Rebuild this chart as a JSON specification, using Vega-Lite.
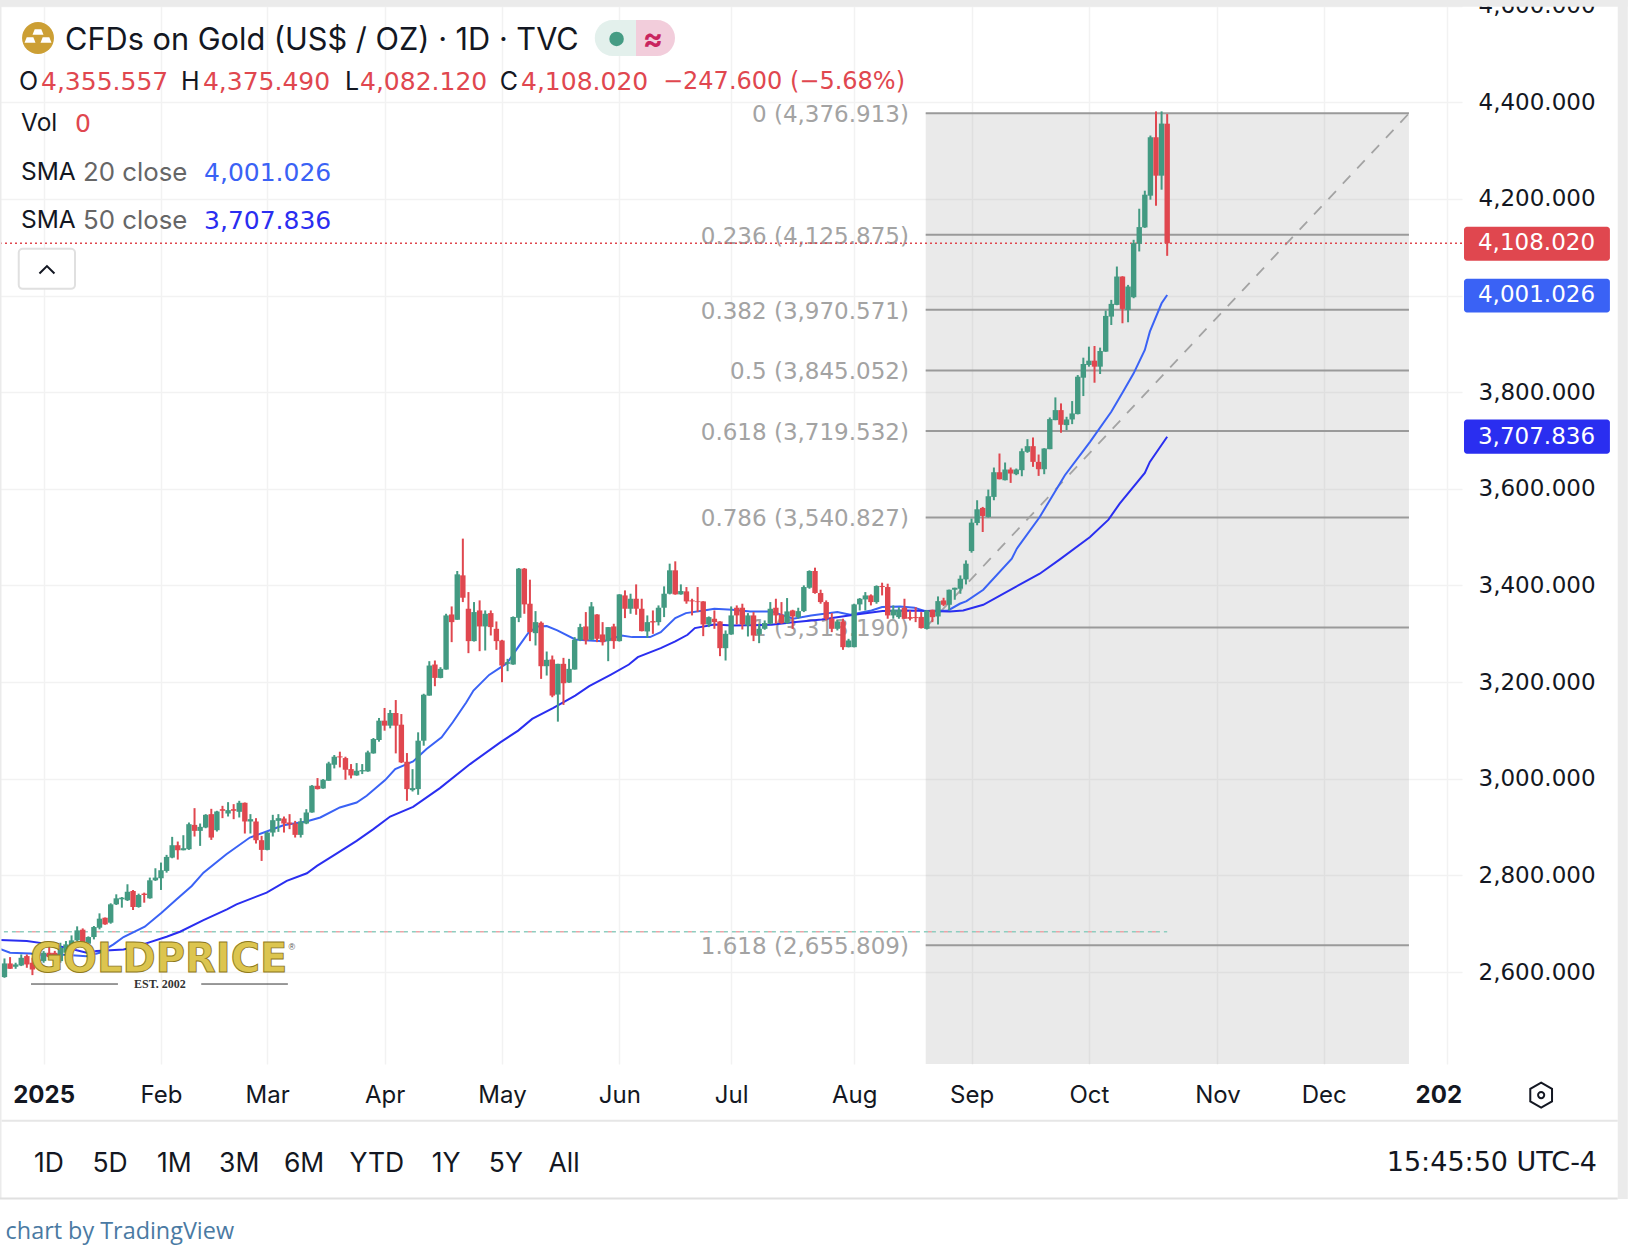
{
"$schema":"https://vega.github.io/schema/vega-lite/v6.json",
"width":1462,"height":1064,
"autosize":{"type":"none"},
"padding":{"left":0,"top":0,"right":166,"bottom":190},
"background":"#ffffff",
"config":{"view":{"stroke":null},"text":{"font":"Inter"}},
"data":{"values":[{}]},
"datasets":{
"candles":[
{"day":-7,"o":2589.7,"h":2628.3,"l":2588.3,"c":2618},
{"day":-6,"o":2618,"h":2631.1,"l":2606.9,"c":2606.9},
{"day":-5,"o":2611.1,"h":2619.4,"l":2606.9,"c":2615.9},
{"day":-4,"o":2613.8,"h":2636.6,"l":2612.5,"c":2629.7},
{"day":-3,"o":2633.2,"h":2636.6,"l":2609,"c":2615.9},
{"day":-2,"o":2619.4,"h":2629.7,"l":2593.8,"c":2605.6},
{"day":-1,"o":2615.9,"h":2629.7,"l":2612.5,"c":2626.3},
{"day":0,"o":2622.8,"h":2643.6,"l":2619.4,"c":2640.1},
{"day":1,"o":2640.1,"h":2661.5,"l":2629.7,"c":2631.1},
{"day":2,"o":2640,"h":2644,"l":2630,"c":2633},
{"day":3,"o":2622.8,"h":2660.8,"l":2619.4,"c":2650.5},
{"day":4,"o":2640.1,"h":2664.3,"l":2636.6,"c":2657.4},
{"day":5,"o":2655.3,"h":2676,"l":2653.9,"c":2665.7},
{"day":6,"o":2665.7,"h":2694.7,"l":2664.3,"c":2686.4},
{"day":7,"o":2687.8,"h":2690.5,"l":2653.9,"c":2657.4},
{"day":8,"o":2658.8,"h":2674,"l":2657.4,"c":2672.6},
{"day":9,"o":2672.6,"h":2695.4,"l":2667.7,"c":2693.3},
{"day":10,"o":2691.9,"h":2721.6,"l":2688.5,"c":2710.6},
{"day":11,"o":2712.6,"h":2713,"l":2698,"c":2698.8},
{"day":12,"o":2702.3,"h":2742.4,"l":2700.2,"c":2740.3},
{"day":13,"o":2740.3,"h":2761,"l":2738.9,"c":2752.7},
{"day":14,"o":2750.7,"h":2755.5,"l":2733.4,"c":2754.1},
{"day":15,"o":2748.6,"h":2781.8,"l":2747.2,"c":2766.5},
{"day":16,"o":2767.9,"h":2770,"l":2728.5,"c":2734.8},
{"day":17,"o":2734.8,"h":2762.4,"l":2733.4,"c":2759.6},
{"day":18,"o":2762.4,"h":2764.5,"l":2743.7,"c":2759.6},
{"day":19,"o":2752.7,"h":2795.6,"l":2752,"c":2790},
{"day":20,"o":2790,"h":2814.9,"l":2788.7,"c":2795.6},
{"day":21,"o":2794.2,"h":2826.7,"l":2770,"c":2810.8},
{"day":22,"o":2809.4,"h":2842.6,"l":2805.9,"c":2838.4},
{"day":23,"o":2837,"h":2879.9,"l":2835.6,"c":2862.6},
{"day":24,"o":2862.6,"h":2870.2,"l":2832.9,"c":2852.2},
{"day":25,"o":2852.2,"h":2883.3,"l":2852,"c":2856.4},
{"day":26,"o":2854.3,"h":2909.6,"l":2852.9,"c":2906.1},
{"day":27,"o":2904.7,"h":2939.3,"l":2880.6,"c":2892.3},
{"day":28,"o":2892.3,"h":2907.5,"l":2861.2,"c":2900.6},
{"day":29,"o":2899.2,"h":2926.9,"l":2897.8,"c":2925.5},
{"day":30,"o":2926.9,"h":2937.9,"l":2873.6,"c":2878.5},
{"day":31,"o":2893.7,"h":2933.8,"l":2890.9,"c":2932.4},
{"day":32,"o":2937.2,"h":2944.1,"l":2918.6,"c":2933.8},
{"day":33,"o":2928.2,"h":2951.7,"l":2922,"c":2935.2},
{"day":34,"o":2937.2,"h":2947.6,"l":2916.5,"c":2933.8},
{"day":35,"o":2931.7,"h":2954.5,"l":2920,"c":2950.4},
{"day":36,"o":2950.4,"h":2951,"l":2886.8,"c":2911.7},
{"day":37,"o":2911.7,"h":2926.9,"l":2886.8,"c":2916.5},
{"day":38,"o":2911.7,"h":2918.6,"l":2866.1,"c":2873},
{"day":39,"o":2873,"h":2881.9,"l":2830.1,"c":2852.9},
{"day":40,"o":2852.9,"h":2890.9,"l":2852,"c":2888.8},
{"day":41,"o":2888.8,"h":2925.5,"l":2880.6,"c":2914.4},
{"day":42,"o":2913,"h":2926.9,"l":2890.2,"c":2918.6},
{"day":43,"o":2917.9,"h":2922,"l":2888.8,"c":2907.5},
{"day":44,"o":2909.6,"h":2926.9,"l":2895.8,"c":2906.1},
{"day":45,"o":2907.5,"h":2913,"l":2878.5,"c":2884},
{"day":46,"o":2884,"h":2918.6,"l":2878.5,"c":2911.7},
{"day":47,"o":2907.5,"h":2937.2,"l":2906.1,"c":2930.3},
{"day":48,"o":2930.3,"h":2987,"l":2930,"c":2985.6},
{"day":49,"o":2985.6,"h":3001.5,"l":2978,"c":2978.7},
{"day":50,"o":2980,"h":2999.4,"l":2979.4,"c":2998},
{"day":51,"o":2996,"h":3035.3,"l":2996,"c":3031.9},
{"day":52,"o":3029.1,"h":3049.2,"l":3021.5,"c":3045.7},
{"day":53,"o":3046.4,"h":3056.1,"l":3023.6,"c":3044.3},
{"day":54,"o":3042.9,"h":3045.7,"l":2998,"c":3018.8},
{"day":55,"o":3020.1,"h":3030.5,"l":3000.8,"c":3007},
{"day":56,"o":3007,"h":3032.6,"l":3006.3,"c":3016.7},
{"day":57,"o":3015.3,"h":3030.5,"l":3009.8,"c":3018},
{"day":58,"o":3015.3,"h":3058.2,"l":3014.6,"c":3054.7},
{"day":59,"o":3052.6,"h":3084.4,"l":3052,"c":3082.3},
{"day":60,"o":3080.3,"h":3125.9,"l":3076.8,"c":3120.3},
{"day":61,"o":3120.3,"h":3146.6,"l":3099.6,"c":3110},
{"day":62,"o":3110,"h":3142.5,"l":3104.5,"c":3136.2},
{"day":63,"o":3136.2,"h":3163,"l":3052.6,"c":3110},
{"day":64,"o":3112,"h":3134,"l":3032.6,"c":3034},
{"day":65,"o":3035.3,"h":3053.3,"l":2954.5,"c":2978.7},
{"day":66,"o":2976.6,"h":3020,"l":2973.8,"c":2980.8},
{"day":67,"o":2978.7,"h":3096.2,"l":2966.9,"c":3078.9},
{"day":68,"o":3078.9,"h":3176,"l":3068.5,"c":3174},
{"day":69,"o":3172.2,"h":3243.4,"l":3172,"c":3234.4},
{"day":70,"o":3236.5,"h":3244.8,"l":3191.6,"c":3208.8},
{"day":71,"o":3208.8,"h":3231,"l":3208,"c":3227.5},
{"day":72,"o":3226.1,"h":3341.5,"l":3226,"c":3338.1},
{"day":73,"o":3340.1,"h":3356.7,"l":3282.8,"c":3324.2},
{"day":74,"o":3329.1,"h":3430,"l":3329,"c":3423.1},
{"day":75,"o":3421,"h":3497,"l":3365.7,"c":3374.7},
{"day":76,"o":3351.9,"h":3386.4,"l":3260,"c":3284.9},
{"day":77,"o":3284.9,"h":3365.7,"l":3284,"c":3345},
{"day":78,"o":3348.4,"h":3369.2,"l":3264.1,"c":3315.3},
{"day":79,"o":3315.3,"h":3348.4,"l":3265.5,"c":3341.5},
{"day":80,"o":3342.9,"h":3348.4,"l":3296.6,"c":3313.9},
{"day":81,"o":3310.4,"h":3325.6,"l":3266.9,"c":3284.9},
{"day":82,"o":3286.2,"h":3287.6,"l":3199.9,"c":3234.4},
{"day":83,"o":3237.9,"h":3248.2,"l":3222.7,"c":3241.3},
{"day":84,"o":3236.5,"h":3336,"l":3236,"c":3334.6},
{"day":85,"o":3333.2,"h":3436.2,"l":3324.2,"c":3434.8},
{"day":86,"o":3434.8,"h":3436.2,"l":3341.5,"c":3360.9},
{"day":87,"o":3362.3,"h":3412,"l":3284.9,"c":3303.5},
{"day":88,"o":3301.4,"h":3347,"l":3275.9,"c":3324.2},
{"day":89,"o":3322.9,"h":3325.6,"l":3206.8,"c":3233},
{"day":90,"o":3233,"h":3263.4,"l":3213.7,"c":3246.2},
{"day":91,"o":3246.9,"h":3255.1,"l":3168.8,"c":3172.2},
{"day":92,"o":3174.3,"h":3238,"l":3118.3,"c":3237.9},
{"day":93,"o":3237.9,"h":3250.3,"l":3152.9,"c":3197.8},
{"day":94,"o":3199.2,"h":3248.2,"l":3198.5,"c":3227.5},
{"day":95,"o":3226.1,"h":3293.2,"l":3226,"c":3287.6},
{"day":96,"o":3287.6,"h":3320.8,"l":3284.9,"c":3313.9},
{"day":97,"o":3315.3,"h":3345,"l":3278,"c":3286.2},
{"day":98,"o":3287.6,"h":3365.7,"l":3287,"c":3356.7},
{"day":99,"o":3340.1,"h":3340.5,"l":3282.8,"c":3289.7},
{"day":100,"o":3298.7,"h":3324.2,"l":3275.9,"c":3282.8},
{"day":101,"o":3284.9,"h":3314,"l":3243.4,"c":3313.9},
{"day":102,"o":3315.3,"h":3320.8,"l":3269,"c":3284.9},
{"day":103,"o":3284.9,"h":3382,"l":3284,"c":3381.6},
{"day":104,"o":3379.5,"h":3389.9,"l":3332.5,"c":3351.9},
{"day":105,"o":3351.9,"h":3383,"l":3341.5,"c":3372.6},
{"day":106,"o":3372.6,"h":3402.3,"l":3339.4,"c":3351.9},
{"day":107,"o":3351.9,"h":3372.6,"l":3305,"c":3305.6},
{"day":108,"o":3304.9,"h":3338.1,"l":3291.8,"c":3324.2},
{"day":109,"o":3326.3,"h":3348.4,"l":3300,"c":3323.5},
{"day":110,"o":3324.2,"h":3358.8,"l":3317.3,"c":3354},
{"day":111,"o":3354,"h":3398.2,"l":3334.6,"c":3383},
{"day":112,"o":3383,"h":3445.2,"l":3381.6,"c":3431.4},
{"day":113,"o":3431.4,"h":3450,"l":3381,"c":3381.6},
{"day":114,"o":3381.6,"h":3402.3,"l":3381,"c":3388.5},
{"day":115,"o":3387.8,"h":3396.8,"l":3362.3,"c":3367.1},
{"day":116,"o":3369.2,"h":3372.6,"l":3338.1,"c":3367.1},
{"day":117,"o":3367.1,"h":3396.8,"l":3345,"c":3365.7},
{"day":118,"o":3367.1,"h":3367.5,"l":3295.2,"c":3319.4},
{"day":119,"o":3319.4,"h":3336,"l":3313.9,"c":3334.6},
{"day":120,"o":3331.2,"h":3348.4,"l":3310.4,"c":3324.2},
{"day":121,"o":3325.6,"h":3326,"l":3253.8,"c":3270.3},
{"day":122,"o":3270.3,"h":3307,"l":3244.8,"c":3300},
{"day":123,"o":3298.7,"h":3356.7,"l":3298,"c":3338.1},
{"day":124,"o":3354,"h":3358.8,"l":3319.4,"c":3338.1},
{"day":125,"o":3354,"h":3362.3,"l":3309,"c":3319.4},
{"day":126,"o":3317.3,"h":3342.9,"l":3294.5,"c":3338.1},
{"day":127,"o":3338.1,"h":3345,"l":3284.9,"c":3296.6},
{"day":128,"o":3298.7,"h":3320.8,"l":3280.7,"c":3310.4},
{"day":129,"o":3310.4,"h":3327.7,"l":3308.4,"c":3322.2},
{"day":130,"o":3320.8,"h":3365.7,"l":3319.4,"c":3351.9},
{"day":131,"o":3354,"h":3372.6,"l":3320.8,"c":3338.1},
{"day":132,"o":3339.4,"h":3365.7,"l":3320.8,"c":3322.2},
{"day":133,"o":3322.2,"h":3374,"l":3320.8,"c":3346.4},
{"day":134,"o":3348.4,"h":3349.8,"l":3310.4,"c":3336},
{"day":135,"o":3334.6,"h":3354,"l":3331.2,"c":3347},
{"day":136,"o":3347,"h":3400.3,"l":3345,"c":3396.8},
{"day":137,"o":3395.4,"h":3431.4,"l":3393.3,"c":3430},
{"day":138,"o":3430,"h":3436.9,"l":3383,"c":3384.4},
{"day":139,"o":3384.4,"h":3391.3,"l":3362.3,"c":3365.7},
{"day":140,"o":3365.7,"h":3369.2,"l":3327.7,"c":3331.2},
{"day":141,"o":3331.2,"h":3342.9,"l":3303.5,"c":3310.4},
{"day":142,"o":3310.4,"h":3329.1,"l":3307,"c":3325.6},
{"day":143,"o":3325.6,"h":3331.2,"l":3266.9,"c":3272.4},
{"day":144,"o":3272.4,"h":3289.7,"l":3272,"c":3286.2},
{"day":145,"o":3272.4,"h":3362.3,"l":3272,"c":3360.9},
{"day":146,"o":3360.9,"h":3374,"l":3348.4,"c":3372.6},
{"day":147,"o":3371.2,"h":3386.4,"l":3348.4,"c":3379.5},
{"day":148,"o":3379.5,"h":3381.6,"l":3358.8,"c":3365.7},
{"day":149,"o":3365.7,"h":3400.3,"l":3362.3,"c":3398.9},
{"day":150,"o":3398.9,"h":3405.8,"l":3379.5,"c":3396.8},
{"day":151,"o":3396.8,"h":3403.7,"l":3331.2,"c":3338.1},
{"day":152,"o":3338.1,"h":3358.8,"l":3331.2,"c":3349.8},
{"day":153,"o":3334.6,"h":3355.3,"l":3331.2,"c":3349.8},
{"day":154,"o":3354,"h":3372.6,"l":3331,"c":3331.2},
{"day":155,"o":3334.6,"h":3348.4,"l":3327.7,"c":3331.2},
{"day":156,"o":3334.6,"h":3355.3,"l":3324.2,"c":3332.5},
{"day":157,"o":3335,"h":3345,"l":3311,"c":3311.8},
{"day":158,"o":3310.3,"h":3349,"l":3308.9,"c":3348.3},
{"day":159,"o":3349.7,"h":3350,"l":3324.2,"c":3334.5},
{"day":160,"o":3335.9,"h":3377.4,"l":3319.3,"c":3367.7},
{"day":161,"o":3369.1,"h":3374.6,"l":3357.3,"c":3360.1},
{"day":162,"o":3360.1,"h":3391.5,"l":3348.3,"c":3391.2},
{"day":163,"o":3391.2,"h":3395.5,"l":3370.5,"c":3395.3},
{"day":164,"o":3393.3,"h":3420.9,"l":3382.9,"c":3414},
{"day":165,"o":3412.6,"h":3452,"l":3402.2,"c":3445.1},
{"day":166,"o":3471.3,"h":3538.4,"l":3467.9,"c":3530.1},
{"day":167,"o":3529.4,"h":3576.4,"l":3524.6,"c":3557.7},
{"day":168,"o":3560.5,"h":3562.6,"l":3510.7,"c":3543.9},
{"day":169,"o":3541.8,"h":3598.5,"l":3540.4,"c":3584.7},
{"day":170,"o":3583.3,"h":3644.1,"l":3576.4,"c":3634.4},
{"day":171,"o":3634.4,"h":3673.1,"l":3619.5,"c":3619.9},
{"day":172,"o":3617.8,"h":3654.5,"l":3617.5,"c":3640},
{"day":173,"o":3640,"h":3644.1,"l":3612.3,"c":3631.7},
{"day":174,"o":3630.3,"h":3642,"l":3628.2,"c":3640},
{"day":175,"o":3638.6,"h":3683.5,"l":3626.1,"c":3677.9},
{"day":176,"o":3676.6,"h":3702.8,"l":3674.5,"c":3688.3},
{"day":177,"o":3688.3,"h":3706.3,"l":3645.5,"c":3655.8},
{"day":178,"o":3655.8,"h":3671,"l":3626.8,"c":3640.6},
{"day":179,"o":3640.6,"h":3684,"l":3630.3,"c":3683.5},
{"day":180,"o":3682.1,"h":3747.7,"l":3682,"c":3744.3},
{"day":181,"o":3742.2,"h":3789.2,"l":3742,"c":3762.9},
{"day":182,"o":3762.9,"h":3776.8,"l":3716,"c":3732.6},
{"day":183,"o":3731.9,"h":3749.1,"l":3721.5,"c":3743.6},
{"day":184,"o":3743.6,"h":3781.6,"l":3733.9,"c":3756},
{"day":185,"o":3754.7,"h":3835.5,"l":3754,"c":3832},
{"day":186,"o":3830,"h":3871.4,"l":3792,"c":3858.3},
{"day":187,"o":3856.2,"h":3894.2,"l":3852.8,"c":3865.2},
{"day":188,"o":3865.2,"h":3895.6,"l":3819.6,"c":3852.8},
{"day":189,"o":3852.8,"h":3892.2,"l":3837.6,"c":3885.2},
{"day":190,"o":3883.9,"h":3968.9,"l":3883.5,"c":3957.8},
{"day":191,"o":3956.4,"h":3991,"l":3939,"c":3982.7},
{"day":192,"o":3980.6,"h":4060,"l":3980,"c":4039.3},
{"day":193,"o":4039.3,"h":4040,"l":3942.6,"c":3972.3},
{"day":194,"o":3970.2,"h":4022,"l":3944.7,"c":4018.6},
{"day":195,"o":3996.5,"h":4115.3,"l":3994.4,"c":4108.4},
{"day":196,"o":4107,"h":4179.6,"l":4091.2,"c":4141.6},
{"day":197,"o":4140.9,"h":4216.9,"l":4140,"c":4208.6},
{"day":198,"o":4206.6,"h":4331,"l":4198.3,"c":4327.5},
{"day":199,"o":4327.5,"h":4381,"l":4185.8,"c":4248},
{"day":200,"o":4248,"h":4381,"l":4219,"c":4355.8},
{"day":201,"o":4355.557,"h":4375.49,"l":4082.12,"c":4108.02}
],
"sma":[
{"s":"SMA 20","day":-7.8,"v":2648},{"s":"SMA 20","day":-6,"v":2640},{"s":"SMA 20","day":-2.4,"v":2638.7},{"s":"SMA 20","day":0,"v":2635},{"s":"SMA 20","day":3,"v":2636.6},{"s":"SMA 20","day":7.7,"v":2633},{"s":"SMA 20","day":10,"v":2640},{"s":"SMA 20","day":12.5,"v":2657.4},{"s":"SMA 20","day":14.3,"v":2672.6},{"s":"SMA 20","day":18.1,"v":2694},{"s":"SMA 20","day":21.1,"v":2723},{"s":"SMA 20","day":23.8,"v":2750.7},{"s":"SMA 20","day":26.5,"v":2778.3},{"s":"SMA 20","day":28.6,"v":2805.9},{"s":"SMA 20","day":32.7,"v":2844},{"s":"SMA 20","day":36.9,"v":2878.5},{"s":"SMA 20","day":39.9,"v":2891},{"s":"SMA 20","day":42.9,"v":2904},{"s":"SMA 20","day":47,"v":2911.7},{"s":"SMA 20","day":49.5,"v":2920},{"s":"SMA 20","day":53,"v":2940.7},{"s":"SMA 20","day":56,"v":2951},{"s":"SMA 20","day":57.8,"v":2964.9},{"s":"SMA 20","day":61.1,"v":2997.3},{"s":"SMA 20","day":62.9,"v":3020},{"s":"SMA 20","day":66.1,"v":3036},{"s":"SMA 20","day":68.5,"v":3061.6},{"s":"SMA 20","day":71.2,"v":3085.8},{"s":"SMA 20","day":73.2,"v":3117},{"s":"SMA 20","day":75.6,"v":3158},{"s":"SMA 20","day":76.9,"v":3182.6},{"s":"SMA 20","day":79.7,"v":3215},{"s":"SMA 20","day":82.9,"v":3239.3},{"s":"SMA 20","day":84.9,"v":3272.4},{"s":"SMA 20","day":86.8,"v":3303.5},{"s":"SMA 20","day":88.4,"v":3315.3},{"s":"SMA 20","day":90,"v":3316},{"s":"SMA 20","day":91.9,"v":3307},{"s":"SMA 20","day":95.1,"v":3288.3},{"s":"SMA 20","day":97.6,"v":3286.2},{"s":"SMA 20","day":100.2,"v":3284.9},{"s":"SMA 20","day":103.4,"v":3296.6},{"s":"SMA 20","day":105.3,"v":3293.2},{"s":"SMA 20","day":108.5,"v":3293.2},{"s":"SMA 20","day":110.4,"v":3303.5},{"s":"SMA 20","day":113,"v":3332.5},{"s":"SMA 20","day":114.9,"v":3342.9},{"s":"SMA 20","day":118.1,"v":3348.4},{"s":"SMA 20","day":120,"v":3351.9},{"s":"SMA 20","day":123.2,"v":3349.8},{"s":"SMA 20","day":126.4,"v":3346.4},{"s":"SMA 20","day":130.2,"v":3346.4},{"s":"SMA 20","day":134.1,"v":3331.2},{"s":"SMA 20","day":137.3,"v":3338.1},{"s":"SMA 20","day":142,"v":3345},{"s":"SMA 20","day":144.3,"v":3339.4},{"s":"SMA 20","day":148.1,"v":3348.4},{"s":"SMA 20","day":150,"v":3355.3},{"s":"SMA 20","day":153.2,"v":3356.7},{"s":"SMA 20","day":155.8,"v":3354},{"s":"SMA 20","day":157.7,"v":3347},{"s":"SMA 20","day":161.8,"v":3348.4},{"s":"SMA 20","day":163.9,"v":3362.2},{"s":"SMA 20","day":165.1,"v":3367.7},{"s":"SMA 20","day":168.1,"v":3391.2},{"s":"SMA 20","day":173.2,"v":3455.5},{"s":"SMA 20","day":174.1,"v":3476.2},{"s":"SMA 20","day":178.2,"v":3541.8},{"s":"SMA 20","day":182.7,"v":3628.2},{"s":"SMA 20","day":187.2,"v":3697.3},{"s":"SMA 20","day":191,"v":3759.5},{"s":"SMA 20","day":193.1,"v":3801},{"s":"SMA 20","day":195,"v":3839},{"s":"SMA 20","day":197,"v":3887.3},{"s":"SMA 20","day":197.9,"v":3925.3},{"s":"SMA 20","day":200,"v":3984},{"s":"SMA 20","day":201,"v":4001.026},
{"s":"SMA 50","day":-7.8,"v":2666.5},{"s":"SMA 50","day":-3,"v":2664.3},{"s":"SMA 50","day":0,"v":2659.5},{"s":"SMA 50","day":4.1,"v":2650.5},{"s":"SMA 50","day":7.7,"v":2640},{"s":"SMA 50","day":9.5,"v":2643.6},{"s":"SMA 50","day":14.3,"v":2647},{"s":"SMA 50","day":17.8,"v":2657.4},{"s":"SMA 50","day":22,"v":2673.3},{"s":"SMA 50","day":24.4,"v":2683.6},{"s":"SMA 50","day":28.6,"v":2707.8},{"s":"SMA 50","day":32.8,"v":2729.9},{"s":"SMA 50","day":34.5,"v":2740.3},{"s":"SMA 50","day":39.9,"v":2764.5},{"s":"SMA 50","day":43.5,"v":2788.7},{"s":"SMA 50","day":47.1,"v":2804.5},{"s":"SMA 50","day":48.9,"v":2819.8},{"s":"SMA 50","day":52.4,"v":2845.3},{"s":"SMA 50","day":56,"v":2871.6},{"s":"SMA 50","day":59,"v":2895.8},{"s":"SMA 50","day":62,"v":2922},{"s":"SMA 50","day":66.1,"v":2942},{"s":"SMA 50","day":70.9,"v":2980.8},{"s":"SMA 50","day":76.3,"v":3030.5},{"s":"SMA 50","day":81.7,"v":3075.4},{"s":"SMA 50","day":84.9,"v":3099.7},{"s":"SMA 50","day":87.4,"v":3123.9},{"s":"SMA 50","day":91.2,"v":3146.7},{"s":"SMA 50","day":95.1,"v":3172.2},{"s":"SMA 50","day":97.6,"v":3191.6},{"s":"SMA 50","day":101.5,"v":3215.8},{"s":"SMA 50","day":104.7,"v":3236.5},{"s":"SMA 50","day":106.3,"v":3251.7},{"s":"SMA 50","day":110.4,"v":3270.3},{"s":"SMA 50","day":113,"v":3284.2},{"s":"SMA 50","day":115.2,"v":3298},{"s":"SMA 50","day":116.5,"v":3311.8},{"s":"SMA 50","day":120,"v":3319.4},{"s":"SMA 50","day":123.2,"v":3317.3},{"s":"SMA 50","day":130.2,"v":3318.7},{"s":"SMA 50","day":134.1,"v":3324.2},{"s":"SMA 50","day":139.2,"v":3329.8},{"s":"SMA 50","day":145,"v":3339.4},{"s":"SMA 50","day":150.1,"v":3347},{"s":"SMA 50","day":154.5,"v":3348.4},{"s":"SMA 50","day":158.3,"v":3347},{"s":"SMA 50","day":162.1,"v":3346.3},{"s":"SMA 50","day":164.5,"v":3348.4},{"s":"SMA 50","day":168.1,"v":3360.1},{"s":"SMA 50","day":173.5,"v":3394.6},{"s":"SMA 50","day":178.2,"v":3424.4},{"s":"SMA 50","day":181.8,"v":3454},{"s":"SMA 50","day":187.2,"v":3500.4},{"s":"SMA 50","day":190.5,"v":3536.3},{"s":"SMA 50","day":192.5,"v":3569.5},{"s":"SMA 50","day":197,"v":3633},{"s":"SMA 50","day":197.9,"v":3655.8},{"s":"SMA 50","day":201,"v":3707.836}
],
"fib":[
{"price":4376.913,"label":"0 (4,376.913)"},
{"price":4125.875,"label":"0.236 (4,125.875)"},
{"price":3970.571,"label":"0.382 (3,970.571)"},
{"price":3845.052,"label":"0.5 (3,845.052)"},
{"price":3719.532,"label":"0.618 (3,719.532)"},
{"price":3540.827,"label":"0.786 (3,540.827)"},
{"price":3313.19,"label":"1 (3,313.190)"},
{"price":2655.809,"label":"1.618 (2,655.809)"}
],
"trend":[{"day":157.8,"price":3313.19},{"day":244.25,"price":4376.913}]
},
"layer":[
{"mark":{"type":"rect","fill":"#9e9e9e","opacity":0.21},
 "encoding":{"x":{"datum":157.8,"type":"quantitative","scale":{"domain":[-7.8,253.74],"nice":false,"zero":false,"padding":0},
   "axis":{"title":null,"values":[0,21,40,61,82,103,123,145,166,187,210,229,251],"labelExpr":"['2025','Feb','Mar','Apr','May','Jun','Jul','Aug','Sep','Oct','Nov','Dec',''][indexof([0,21,40,61,82,103,123,145,166,187,210,229,251],datum.value)]","labelFontWeight":{"condition":{"test":"datum.value==0","value":"bold"},"value":"normal"},"labelFont":"Inter","labelFontSize":24,"labelColor":"#131722","labelPadding":19,"ticks":false,"domain":false,"grid":true,"gridColor":"#f2f2f2","gridWidth":1.5,"labelOverlap":false,"labelFlush":false}},
  "x2":{"datum":244.25},
  "y":{"datum":4376.913,"type":"quantitative","scale":{"domain":[2409.9,4611.5],"nice":false,"zero":false},
   "axis":{"title":null,"orient":"right","values":[2600,2800,3000,3200,3400,3600,3800,4000,4200,4400,4600],"format":",.3f","labelExpr":"datum.value==4000?'':datum.label","labelFont":"DejaVu Sans","labelFontSize":23,"labelColor":"#131722","labelAlign":"left","labelPadding":16,"ticks":false,"domain":false,"grid":true,"gridColor":"#f2f2f2","gridWidth":1.5,"labelOverlap":false}},
  "y2":{"datum":2409.9}}},
{"data":{"name":"fib"},"mark":{"type":"rule","stroke":"#9a9a9a","strokeWidth":2},
 "encoding":{"x":{"datum":157.8},"x2":{"datum":244.25},"y":{"field":"price","type":"quantitative"}}},
{"data":{"name":"fib"},"mark":{"type":"text","font":"DejaVu Sans","align":"right","baseline":"middle","dy":2,"fontSize":23,"fill":"#a3a3a3"},
 "encoding":{"x":{"datum":154.8},"y":{"field":"price","type":"quantitative"},"text":{"field":"label"}}},
{"data":{"name":"trend"},"mark":{"type":"line","stroke":"#a3a3a3","strokeWidth":1.8,"strokeDash":[11,10]},
 "encoding":{"x":{"field":"day","type":"quantitative"},"y":{"field":"price","type":"quantitative"}}},
{"mark":{"type":"rule","stroke":"#e0474f","strokeWidth":1.6,"strokeDash":[2,3]},"encoding":{"y":{"datum":4108.02}}},
{"mark":{"type":"rule","stroke":"#eda4a7","strokeWidth":1.5,"strokeDash":[4,12],"strokeDashOffset":4},"encoding":{"x":{"datum":-7.1},"x2":{"datum":201},"y":{"datum":2683.6}}},
{"mark":{"type":"rule","stroke":"#8fcdbf","strokeWidth":1.5,"strokeDash":[4,4]},"encoding":{"x":{"datum":-7.1},"x2":{"datum":201},"y":{"datum":2683.6}}},
{"data":{"name":"sma"},"mark":{"type":"line","strokeWidth":2},
 "encoding":{"x":{"field":"day","type":"quantitative"},"y":{"field":"v","type":"quantitative"},
  "color":{"field":"s","type":"nominal","legend":null,"scale":{"domain":["SMA 20","SMA 50"],"range":["#3a62f5","#2a2ef0"]}}}},
{"data":{"name":"candles"},"mark":{"type":"rule","strokeWidth":2},
 "encoding":{"x":{"field":"day","type":"quantitative"},"y":{"field":"l","type":"quantitative"},"y2":{"field":"h"},
  "color":{"condition":{"test":"datum.c>=datum.o","value":"#439a82"},"value":"#e0474f"}}},
{"data":{"name":"candles"},"mark":{"type":"bar","size":5.4},
 "encoding":{"x":{"field":"day","type":"quantitative"},"y":{"field":"o","type":"quantitative"},"y2":{"field":"c"},
  "color":{"condition":{"test":"datum.c>=datum.o","value":"#439a82"},"value":"#e0474f"}}},

{"mark":{"type":"text","font":"DejaVu Sans","fontWeight":"bold","fontSize":40,"fill":"#dcc54f","stroke":"#8f7a1c","strokeWidth":0.9,"align":"center","baseline":"middle"},"encoding":{"x":{"datum":20.6},"y":{"datum":2624.9},"text":{"value":"GOLDPRICE"}}},
{"mark":{"type":"text","font":"Liberation Sans","fontSize":9,"fill":"#555555","align":"center","baseline":"middle"},"encoding":{"x":{"datum":44.4},"y":{"datum":2651},"text":{"value":"®"}}},
{"mark":{"type":"text","font":"Liberation Serif","fontWeight":"bold","fontSize":12,"fill":"#333333","align":"center","baseline":"middle"},"encoding":{"x":{"datum":20.8},"y":{"datum":2575.3},"text":{"value":"EST. 2002"}}},
{"mark":{"type":"rule","stroke":"#333333","strokeWidth":1},"encoding":{"x":{"datum":-2.25},"x2":{"datum":13.3},"y":{"datum":2575.4}}},
{"mark":{"type":"rule","stroke":"#333333","strokeWidth":1},"encoding":{"x":{"datum":28.2},"x2":{"datum":43.7},"y":{"datum":2575.4}}},

{"mark":{"type":"rect","fill":"#ebebeb"},"encoding":{"x":{"datum":-7.8},"x2":{"datum":283.4},"y":{"datum":4611.5},"y2":{"datum":4597.6}}},
{"mark":{"type":"rect","fill":"#ebebeb"},"encoding":{"x":{"datum":-7.8},"x2":{"datum":-7.53},"y":{"datum":4611.5},"y2":{"datum":2130.7}}},
{"mark":{"type":"rect","fill":"#ebebeb"},"encoding":{"x":{"datum":281.6},"x2":{"datum":283.4},"y":{"datum":4611.5},"y2":{"datum":2130.7}}},
{"mark":{"type":"rule","stroke":"#e6e6e6","strokeWidth":2},"encoding":{"x":{"datum":-7.53},"x2":{"datum":281.6},"y":{"datum":2292.6}}},
{"mark":{"type":"rule","stroke":"#e0e0e0","strokeWidth":2},"encoding":{"x":{"datum":-7.8},"x2":{"datum":281.6},"y":{"datum":2131.7}}},

{"mark":{"type":"circle","size":1018,"fill":"#cc9f34","opacity":1},"encoding":{"x":{"datum":-1},"y":{"datum":4533}}},
{"mark":{"type":"point","shape":"M-1,0.5L-0.6,-0.5L0.6,-0.5L1,0.5Z","size":121,"filled":true,"fill":"#ffffff","opacity":1},"encoding":{"x":{"datum":-1},"y":{"datum":4545.4}}},
{"mark":{"type":"point","shape":"M-1,0.5L-0.6,-0.5L0.6,-0.5L1,0.5Z","size":121,"filled":true,"fill":"#ffffff","opacity":1},"encoding":{"x":{"datum":-2.43},"y":{"datum":4528.8}}},
{"mark":{"type":"point","shape":"M-1,0.5L-0.6,-0.5L0.6,-0.5L1,0.5Z","size":121,"filled":true,"fill":"#ffffff","opacity":1},"encoding":{"x":{"datum":0.43},"y":{"datum":4528.8}}},
{"mark":{"type":"text","fontSize":30.7,"fill":"#131722","align":"left","baseline":"middle"},"encoding":{"x":{"datum":3.83},"y":{"datum":4526.4},"text":{"value":"CFDs on Gold (US$ / OZ) · 1D · TVC"}}},
{"mark":{"type":"rect","fill":"#e3f0ec","cornerRadiusTopLeft":18,"cornerRadiusBottomLeft":18},"encoding":{"x":{"datum":98.6},"x2":{"datum":105.97},"y":{"datum":4570.2},"y2":{"datum":4495.6}}},
{"mark":{"type":"rect","fill":"#f2cddb","cornerRadiusTopRight":18,"cornerRadiusBottomRight":18},"encoding":{"x":{"datum":105.97},"x2":{"datum":112.95},"y":{"datum":4570.2},"y2":{"datum":4495.6}}},
{"mark":{"type":"circle","size":210,"fill":"#459c84","opacity":1},"encoding":{"x":{"datum":102.5},"y":{"datum":4531}}},
{"mark":{"type":"text","fontSize":30,"fontWeight":"bold","fill":"#c9255f","align":"center","baseline":"middle"},"encoding":{"x":{"datum":109},"y":{"datum":4529},"text":{"value":"≈"}}},

{"mark":{"type":"text","fontSize":25,"fill":"#131722","align":"left","baseline":"middle"},"encoding":{"x":{"datum":-4.4},"y":{"datum":4441.7},"text":{"value":"O"}}},
{"mark":{"type":"text","font":"DejaVu Sans","fontSize":25,"fill":"#e0474f","align":"left","baseline":"middle"},"encoding":{"x":{"datum":-0.47},"y":{"datum":4441.7},"text":{"value":"4,355.557"}}},
{"mark":{"type":"text","fontSize":25,"fill":"#131722","align":"left","baseline":"middle"},"encoding":{"x":{"datum":24.6},"y":{"datum":4441.7},"text":{"value":"H"}}},
{"mark":{"type":"text","font":"DejaVu Sans","fontSize":25,"fill":"#e0474f","align":"left","baseline":"middle"},"encoding":{"x":{"datum":28.5},"y":{"datum":4441.7},"text":{"value":"4,375.490"}}},
{"mark":{"type":"text","fontSize":25,"fill":"#131722","align":"left","baseline":"middle"},"encoding":{"x":{"datum":53.9},"y":{"datum":4441.7},"text":{"value":"L"}}},
{"mark":{"type":"text","font":"DejaVu Sans","fontSize":25,"fill":"#e0474f","align":"left","baseline":"middle"},"encoding":{"x":{"datum":56.6},"y":{"datum":4441.7},"text":{"value":"4,082.120"}}},
{"mark":{"type":"text","fontSize":25,"fill":"#131722","align":"left","baseline":"middle"},"encoding":{"x":{"datum":81.6},"y":{"datum":4441.7},"text":{"value":"C"}}},
{"mark":{"type":"text","font":"DejaVu Sans","fontSize":25,"fill":"#e0474f","align":"left","baseline":"middle"},"encoding":{"x":{"datum":85.4},"y":{"datum":4441.7},"text":{"value":"4,108.020"}}},
{"mark":{"type":"text","font":"DejaVu Sans","fontSize":24,"fill":"#e0474f","align":"left","baseline":"middle"},"encoding":{"x":{"datum":110.8},"y":{"datum":4441.7},"text":{"value":"−247.600 (−5.68%)"}}},

{"mark":{"type":"text","fontSize":24.5,"fill":"#131722","align":"left","baseline":"middle"},"encoding":{"x":{"datum":-4.04},"y":{"datum":4354.8},"text":{"value":"Vol"}}},
{"mark":{"type":"text","font":"DejaVu Sans","fontSize":25,"fill":"#e0474f","align":"left","baseline":"middle"},"encoding":{"x":{"datum":5.62},"y":{"datum":4354.8},"text":{"value":"0"}}},
{"mark":{"type":"text","fontSize":24.5,"fill":"#131722","align":"left","baseline":"middle"},"encoding":{"x":{"datum":-4.04},"y":{"datum":4253.2},"text":{"value":"SMA"}}},
{"mark":{"type":"text","fontSize":25.8,"fill":"#666666","align":"left","baseline":"middle"},"encoding":{"x":{"datum":7.05},"y":{"datum":4253.2},"text":{"value":"20 close"}}},
{"mark":{"type":"text","font":"DejaVu Sans","fontSize":25,"fill":"#3a62f5","align":"left","baseline":"middle"},"encoding":{"x":{"datum":28.7},"y":{"datum":4253.2},"text":{"value":"4,001.026"}}},
{"mark":{"type":"text","fontSize":24.5,"fill":"#131722","align":"left","baseline":"middle"},"encoding":{"x":{"datum":-4.04},"y":{"datum":4153.7},"text":{"value":"SMA"}}},
{"mark":{"type":"text","fontSize":25.8,"fill":"#666666","align":"left","baseline":"middle"},"encoding":{"x":{"datum":7.05},"y":{"datum":4153.7},"text":{"value":"50 close"}}},
{"mark":{"type":"text","font":"DejaVu Sans","fontSize":25,"fill":"#2a2ef0","align":"left","baseline":"middle"},"encoding":{"x":{"datum":28.7},"y":{"datum":4153.7},"text":{"value":"3,707.836"}}},
{"mark":{"type":"rect","fill":"#ffffff","stroke":"#e0e0e0","strokeWidth":2,"cornerRadius":4},"encoding":{"x":{"datum":-4.45},"x2":{"datum":5.62},"y":{"datum":4096.7},"y2":{"datum":4013.8}}},
{"mark":{"type":"point","shape":"M-1,0.5L0,-0.5L1,0.5","size":225,"filled":false,"stroke":"#131722","strokeWidth":2,"opacity":1},"encoding":{"x":{"datum":0.6},"y":{"datum":4053.2}}},

{"mark":{"type":"rect","fill":"#e0474f","cornerRadius":3},"encoding":{"x":{"datum":254.1},"x2":{"datum":280.2},"y":{"datum":4142.3},"y2":{"datum":4071.9}}},
{"mark":{"type":"rect","fill":"#3a62f5","cornerRadius":3},"encoding":{"x":{"datum":254.1},"x2":{"datum":280.2},"y":{"datum":4034.5},"y2":{"datum":3964.7}}},
{"mark":{"type":"rect","fill":"#2a2ef0","cornerRadius":3},"encoding":{"x":{"datum":254.1},"x2":{"datum":280.2},"y":{"datum":3743.3},"y2":{"datum":3672.6}}},
{"mark":{"type":"text","font":"DejaVu Sans","fontSize":23,"fill":"#ffffff","align":"left","baseline":"middle"},"encoding":{"x":{"datum":256.6},"y":{"datum":4108.02},"text":{"value":"4,108.020"}}},
{"mark":{"type":"text","font":"DejaVu Sans","fontSize":23,"fill":"#ffffff","align":"left","baseline":"middle"},"encoding":{"x":{"datum":256.6},"y":{"datum":4001.026},"text":{"value":"4,001.026"}}},
{"mark":{"type":"text","font":"DejaVu Sans","fontSize":23,"fill":"#ffffff","align":"left","baseline":"middle"},"encoding":{"x":{"datum":256.6},"y":{"datum":3707.836},"text":{"value":"3,707.836"}}},

{"mark":{"type":"text","fontSize":24,"fontWeight":"bold","fill":"#131722","align":"right","baseline":"middle"},"encoding":{"x":{"datum":253.74},"y":{"datum":2343.5},"text":{"value":"202"}}},
{"mark":{"type":"point","shape":"M0,-1L0.87,-0.5L0.87,0.5L0,1L-0.87,0.5L-0.87,-0.5Z","size":625,"filled":false,"stroke":"#131722","strokeWidth":2,"opacity":1},"encoding":{"x":{"datum":267.9},"y":{"datum":2345.6}}},
{"mark":{"type":"circle","size":38,"filled":false,"stroke":"#131722","strokeWidth":2,"opacity":1},"encoding":{"x":{"datum":267.9},"y":{"datum":2345.6}}},

{"mark":{"type":"text","fontSize":26.5,"fill":"#131722","align":"center","baseline":"middle"},"encoding":{"x":{"datum":0.97},"y":{"datum":2203.4},"text":{"value":"1D"}}},
{"mark":{"type":"text","fontSize":26.5,"fill":"#131722","align":"center","baseline":"middle"},"encoding":{"x":{"datum":11.9},"y":{"datum":2203.4},"text":{"value":"5D"}}},
{"mark":{"type":"text","fontSize":26.5,"fill":"#131722","align":"center","baseline":"middle"},"encoding":{"x":{"datum":23.4},"y":{"datum":2203.4},"text":{"value":"1M"}}},
{"mark":{"type":"text","fontSize":26.5,"fill":"#131722","align":"center","baseline":"middle"},"encoding":{"x":{"datum":35},"y":{"datum":2203.4},"text":{"value":"3M"}}},
{"mark":{"type":"text","fontSize":26.5,"fill":"#131722","align":"center","baseline":"middle"},"encoding":{"x":{"datum":46.6},"y":{"datum":2203.4},"text":{"value":"6M"}}},
{"mark":{"type":"text","fontSize":26.5,"fill":"#131722","align":"center","baseline":"middle"},"encoding":{"x":{"datum":59.6},"y":{"datum":2203.4},"text":{"value":"YTD"}}},
{"mark":{"type":"text","fontSize":26.5,"fill":"#131722","align":"center","baseline":"middle"},"encoding":{"x":{"datum":72},"y":{"datum":2203.4},"text":{"value":"1Y"}}},
{"mark":{"type":"text","fontSize":26.5,"fill":"#131722","align":"center","baseline":"middle"},"encoding":{"x":{"datum":82.7},"y":{"datum":2203.4},"text":{"value":"5Y"}}},
{"mark":{"type":"text","fontSize":26.5,"fill":"#131722","align":"center","baseline":"middle"},"encoding":{"x":{"datum":93.1},"y":{"datum":2203.4},"text":{"value":"All"}}},
{"mark":{"type":"text","font":"DejaVu Sans","fontSize":27,"fill":"#131722","align":"right","baseline":"middle"},"encoding":{"x":{"datum":277.9},"y":{"datum":2204.7},"text":{"value":"15:45:50 UTC-4"}}},
{"mark":{"type":"text","font":"Open Sans","fontSize":23.4,"fill":"#4a7aa3","align":"left","baseline":"middle"},"encoding":{"x":{"datum":-6.8},"y":{"datum":2062},"text":{"value":"chart by TradingView"}}}
]
}
